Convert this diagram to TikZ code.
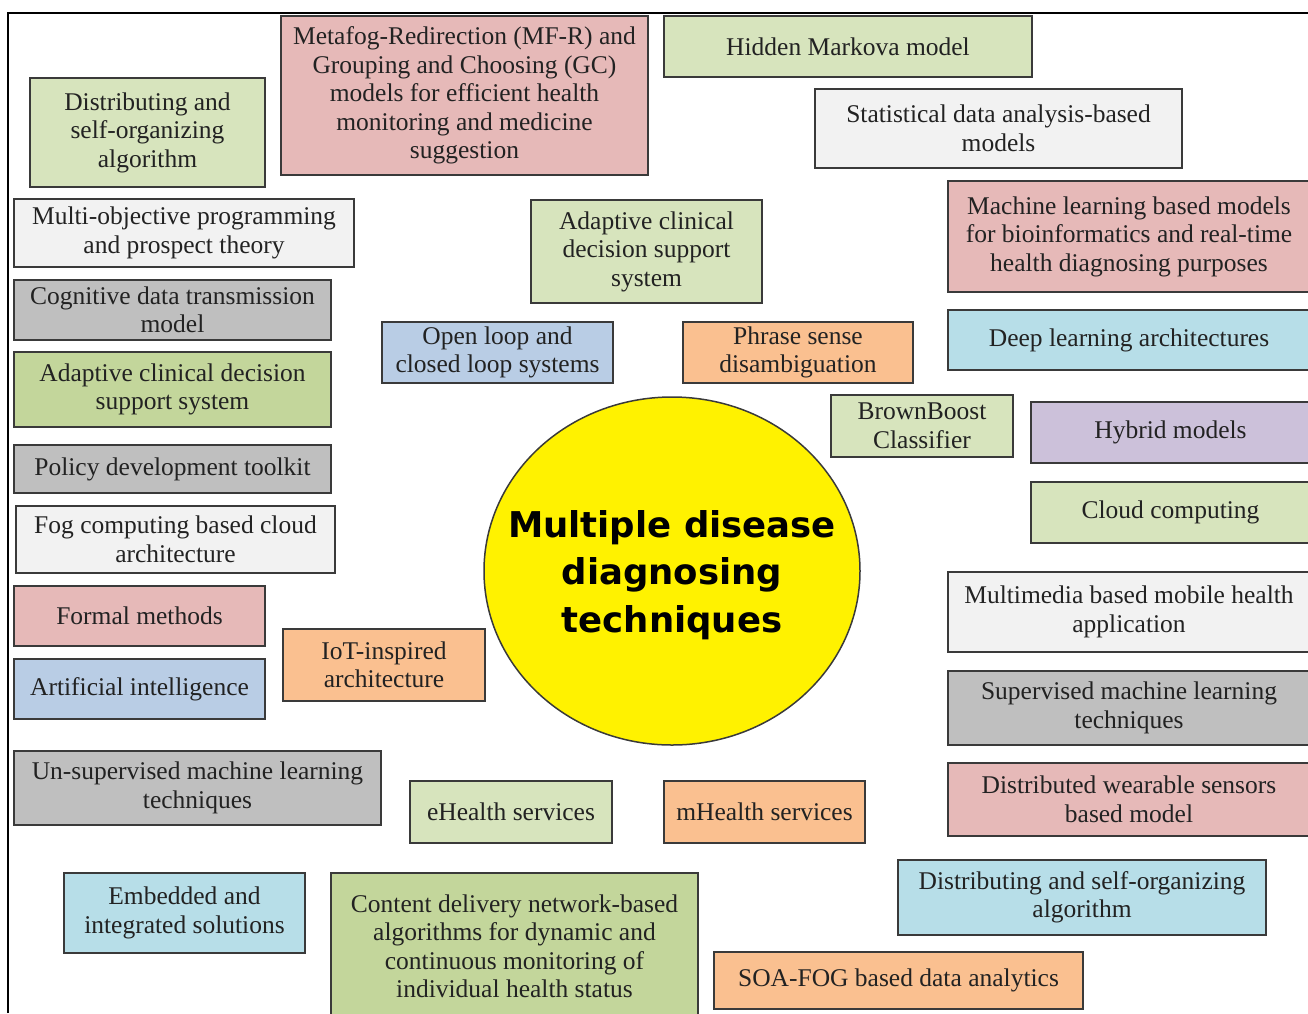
\documentclass[tikz,border=0pt]{standalone}
\usepackage{fontspec}
\setmainfont{Liberation Serif}
\newfontfamily\hubfont{DejaVu Sans}
\usetikzlibrary{shapes.geometric}

\definecolor{lightgreen}{HTML}{D7E4BD}
\definecolor{olivegreen}{HTML}{C3D69B}
\definecolor{rosered}{HTML}{E6B9B8}
\definecolor{paleblue}{HTML}{B9CDE5}
\definecolor{aquablue}{HTML}{B7DEE8}
\definecolor{peach}{HTML}{FAC090}
\definecolor{midgray}{HTML}{BFBFBF}
\definecolor{offwhite}{HTML}{F2F2F2}
\definecolor{lavender}{HTML}{CCC1DA}
\definecolor{boxline}{HTML}{3A3A3A}
\definecolor{inktext}{HTML}{222222}

\begin{document}
\begin{tikzpicture}[
  x = 1pt, y = -1pt,
  every node/.style = {draw = boxline, line width = 2pt, align = center,
                       inner sep = 2pt, text = inktext,
                       font = \fontsize{25.5}{28.5}\selectfont},
  greenbox/.style = {fill = lightgreen},
  olivebox/.style = {fill = olivegreen},
  redbox/.style = {fill = rosered},
  bluebox/.style = {fill = paleblue},
  aquabox/.style = {fill = aquablue},
  peachbox/.style = {fill = peach},
  graybox/.style = {fill = midgray},
  whitebox/.style = {fill = offwhite},
  purplebox/.style = {fill = lavender},
  hub/.style = {ellipse, fill = yellow, line width = 1.5pt, inner sep = 0pt,
                minimum width = 376, minimum height = 348},
  hubtext/.style = {draw = none, text = black,
                    font = \hubfont\bfseries\fontsize{35.5}{47.5}\selectfont},
  ]
  \useasboundingbox (0,0) rectangle (1308,1013);
  \draw[line width = 2pt, black] (8,1013) -- (8,13) -- (1308,13);

  % center
  \node[hub] (hub) at (672,571) {};
  \node[hubtext] (hubtext) at ([yshift=-4pt]hub.center) {Multiple disease\\diagnosing\\techniques};

  % left column
  \node[greenbox, minimum width = 235, minimum height = 109] (distribA) at (147.5,132.5) {Distributing and\\self-organizing\\algorithm};
  \node[whitebox, minimum width = 340, minimum height = 68] (multiobj) at (184,233) {Multi-objective programming\\and prospect theory};
  \node[graybox, minimum width = 317, minimum height = 60] (cognitive) at (172.5,310) {Cognitive data transmission\\model};
  \node[olivebox, minimum width = 317, minimum height = 75] (adaptiveB) at (172.5,389.5) {Adaptive clinical decision\\support system};
  \node[graybox, minimum width = 317, minimum height = 48] (policy) at (172.5,469) {Policy development toolkit};
  \node[whitebox, minimum width = 319, minimum height = 67] (fogcloud) at (175.5,539.5) {Fog computing based cloud\\architecture};
  \node[redbox, minimum width = 251, minimum height = 60] (formal) at (139.5,616) {Formal methods};
  \node[bluebox, minimum width = 251, minimum height = 60] (ai) at (139.5,689) {Artificial intelligence};
  \node[peachbox, minimum width = 202, minimum height = 72] (iot) at (384,665) {IoT-inspired\\architecture};
  \node[graybox, minimum width = 367, minimum height = 74] (unsup) at (197.5,788) {Un-supervised machine learning\\techniques};
  \node[aquabox, minimum width = 241, minimum height = 80] (embedded) at (184.5,913) {Embedded and\\integrated solutions};

  % top and middle
  \node[redbox, minimum width = 367, minimum height = 159] (metafog) at (464.5,95.5) {Metafog-Redirection (MF-R) and\\Grouping and Choosing (GC)\\models for efficient health\\monitoring and medicine\\suggestion};
  \node[greenbox, minimum width = 368, minimum height = 61] (markov) at (848,46.5) {Hidden Markova model};
  \node[whitebox, minimum width = 367, minimum height = 79] (statistical) at (998.5,128.5) {Statistical data analysis-based\\models};
  \node[greenbox, minimum width = 231, minimum height = 103] (adaptiveA) at (646.5,251.5) {Adaptive clinical\\decision support\\system};
  \node[bluebox, minimum width = 231, minimum height = 61] (openloop) at (497.5,352.5) {Open loop and\\closed loop systems};
  \node[peachbox, minimum width = 230, minimum height = 61] (phrase) at (798,352.5) {Phrase sense\\disambiguation};
  \node[greenbox, minimum width = 182, minimum height = 62] (brownboost) at (922,426) {BrownBoost\\Classifier};

  % right column
  \node[redbox, minimum width = 362, minimum height = 111] (mlmodels) at (1129,236.5) {Machine learning based models\\for bioinformatics and real-time\\health diagnosing purposes};
  \node[aquabox, minimum width = 362, minimum height = 60] (deep) at (1129,340) {Deep learning architectures};
  \node[purplebox, minimum width = 279, minimum height = 61] (hybrid) at (1170.5,432.5) {Hybrid models};
  \node[greenbox, minimum width = 279, minimum height = 61] (cloud) at (1170.5,512.5) {Cloud computing};
  \node[whitebox, minimum width = 362, minimum height = 80] (multimedia) at (1129,612) {Multimedia based mobile health\\application};
  \node[graybox, minimum width = 362, minimum height = 74] (supervised) at (1129,708) {Supervised machine learning\\techniques};
  \node[redbox, minimum width = 362, minimum height = 73] (wearable) at (1129,799.5) {Distributed wearable sensors\\based model};

  % bottom
  \node[greenbox, minimum width = 202, minimum height = 62] (ehealth) at (511,812) {eHealth services};
  \node[peachbox, minimum width = 201, minimum height = 62] (mhealth) at (764.5,812) {mHealth services};
  \node[aquabox, minimum width = 368, minimum height = 75] (distribB) at (1082,897.5) {Distributing and self-organizing\\algorithm};
  \node[olivebox, minimum width = 367, minimum height = 147] (content) at (514.5,946.5) {Content delivery network-based\\algorithms for dynamic and\\continuous monitoring of\\individual health status};
  \node[peachbox, minimum width = 369, minimum height = 57] (soafog) at (898.5,980.5) {SOA-FOG based data analytics};
\end{tikzpicture}
\end{document}
